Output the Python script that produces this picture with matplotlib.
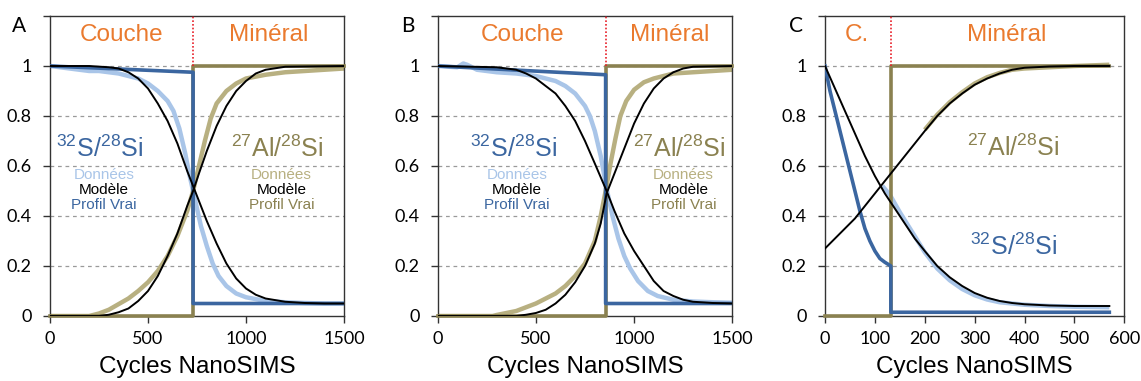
import matplotlib
matplotlib.use("Agg")
import matplotlib.pyplot as plt

plt.rcParams['font.family'] = ['Liberation Sans', 'DejaVu Sans']
plt.rcParams['mathtext.fontset'] = 'custom'
plt.rcParams['mathtext.rm'] = 'Liberation Sans'
plt.rcParams['mathtext.it'] = 'Liberation Sans'

# ---------------- Panel A ----------------
a_interface = 730
a_true_s_x = [0, 730, 730, 1500]
a_true_s_y = [1.0, 0.975, 0.05, 0.05]
a_true_al_x = [0, 730, 730, 1500]
a_true_al_y = [0.0, 0.0, 1.0, 1.0]
a_data_s_x = [0, 50, 100, 150, 200, 250, 300, 350, 400, 450, 500, 550, 600, 630, 660, 690, 710, 730, 750, 770, 800, 830, 860, 900, 950, 1000, 1100, 1200, 1300, 1400, 1500]
a_data_s_y = [1.0, 0.995, 0.99, 0.985, 0.98, 0.98, 0.975, 0.97, 0.96, 0.95, 0.93, 0.90, 0.86, 0.82, 0.75, 0.65, 0.57, 0.50, 0.43, 0.36, 0.28, 0.21, 0.16, 0.12, 0.09, 0.075, 0.06, 0.055, 0.052, 0.05, 0.05]
a_model_s_x = [0, 100, 200, 300, 350, 400, 450, 500, 550, 600, 650, 700, 730, 760, 800, 850, 900, 950, 1000, 1050, 1100, 1200, 1300, 1400, 1500]
a_model_s_y = [1.0, 1.0, 1.0, 0.995, 0.99, 0.975, 0.95, 0.91, 0.85, 0.78, 0.69, 0.58, 0.52, 0.46, 0.38, 0.29, 0.21, 0.15, 0.11, 0.085, 0.07, 0.057, 0.052, 0.05, 0.05]
a_data_al_x = [0, 200, 250, 300, 400, 450, 500, 550, 600, 650, 700, 730, 760, 790, 820, 850, 900, 950, 1000, 1100, 1200, 1300, 1400, 1500]
a_data_al_y = [0.0, 0.0, 0.01, 0.025, 0.07, 0.10, 0.135, 0.18, 0.24, 0.32, 0.42, 0.50, 0.60, 0.70, 0.79, 0.85, 0.90, 0.93, 0.95, 0.965, 0.975, 0.98, 0.985, 0.99]
a_model_al_x = [0, 250, 300, 350, 400, 450, 500, 550, 600, 650, 700, 730, 760, 800, 850, 900, 950, 1000, 1050, 1100, 1200, 1500]
a_model_al_y = [0.0, 0.0, 0.005, 0.015, 0.03, 0.06, 0.10, 0.16, 0.24, 0.33, 0.44, 0.50, 0.57, 0.66, 0.76, 0.84, 0.90, 0.94, 0.97, 0.985, 0.997, 1.0]

# ---------------- Panel B ----------------
b_interface = 855
b_true_s_x = [0, 855, 855, 1500]
b_true_s_y = [1.0, 0.965, 0.05, 0.05]
b_true_al_x = [0, 855, 855, 1500]
b_true_al_y = [0.0, 0.0, 1.0, 1.0]
b_data_s_x = [0, 100, 130, 150, 200, 300, 400, 500, 600, 650, 700, 750, 775, 800, 830, 860, 890, 920, 950, 980, 1020, 1070, 1120, 1200, 1300, 1400, 1500]
b_data_s_y = [1.0, 0.995, 1.01, 1.005, 0.985, 0.975, 0.97, 0.96, 0.94, 0.92, 0.89, 0.84, 0.80, 0.74, 0.64, 0.51, 0.40, 0.31, 0.24, 0.19, 0.14, 0.10, 0.08, 0.065, 0.058, 0.055, 0.053]
b_model_s_x = [0, 300, 400, 450, 500, 550, 600, 650, 700, 750, 800, 860, 900, 950, 1000, 1050, 1100, 1150, 1200, 1250, 1300, 1400, 1500]
b_model_s_y = [1.0, 0.995, 0.985, 0.97, 0.95, 0.92, 0.89, 0.84, 0.78, 0.70, 0.61, 0.50, 0.42, 0.33, 0.26, 0.20, 0.14, 0.10, 0.08, 0.065, 0.057, 0.052, 0.05]
b_data_al_x = [0, 280, 300, 400, 500, 600, 650, 700, 750, 800, 830, 855, 880, 905, 930, 960, 1000, 1050, 1100, 1200, 1300, 1400, 1500]
b_data_al_y = [0.0, 0.0, 0.004, 0.02, 0.05, 0.09, 0.12, 0.16, 0.21, 0.30, 0.40, 0.50, 0.61, 0.71, 0.80, 0.86, 0.905, 0.935, 0.95, 0.97, 0.975, 0.98, 0.985]
b_model_al_x = [0, 400, 450, 500, 550, 600, 650, 700, 750, 800, 830, 860, 900, 950, 1000, 1050, 1100, 1150, 1200, 1250, 1300, 1500]
b_model_al_y = [0.0, 0.0, 0.005, 0.012, 0.025, 0.05, 0.085, 0.135, 0.20, 0.29, 0.37, 0.49, 0.57, 0.67, 0.77, 0.85, 0.91, 0.95, 0.975, 0.99, 0.997, 1.0]

# ---------------- Panel C ----------------
c_interface = 132
c_true_s_x = [0, 10, 20, 30, 40, 50, 60, 70, 80, 90, 100, 110, 120, 132, 132, 570]
c_true_s_y = [1.0, 0.90, 0.82, 0.74, 0.66, 0.58, 0.50, 0.42, 0.35, 0.30, 0.26, 0.23, 0.215, 0.20, 0.015, 0.015]
c_true_al_x = [0, 132, 132, 570]
c_true_al_y = [0.0, 0.0, 1.0, 1.0]
c_data_s_x = [115, 130, 150, 175, 200, 225, 250, 275, 300, 325, 350, 400, 450, 500, 570]
c_data_s_y = [0.52, 0.485, 0.415, 0.335, 0.255, 0.19, 0.143, 0.108, 0.083, 0.066, 0.055, 0.045, 0.04, 0.037, 0.035]
c_model_s_x = [0, 20, 40, 60, 80, 100, 120, 140, 160, 180, 200, 225, 250, 275, 300, 325, 350, 375, 400, 450, 500, 570]
c_model_s_y = [1.0, 0.91, 0.82, 0.73, 0.64, 0.56, 0.49, 0.43, 0.37, 0.31, 0.26, 0.20, 0.155, 0.12, 0.092, 0.073, 0.06, 0.052, 0.047, 0.042, 0.04, 0.04]
c_data_al_x = [200, 225, 250, 275, 300, 325, 350, 375, 400, 450, 500, 570]
c_data_al_y = [0.745, 0.805, 0.855, 0.895, 0.93, 0.955, 0.972, 0.985, 0.99, 0.995, 1.0, 1.005]
c_model_al_x = [0, 20, 40, 60, 80, 100, 120, 140, 160, 180, 200, 225, 250, 275, 300, 325, 350, 375, 400, 450, 500, 570]
c_model_al_y = [0.27, 0.31, 0.35, 0.39, 0.44, 0.49, 0.54, 0.59, 0.64, 0.69, 0.74, 0.80, 0.85, 0.89, 0.925, 0.95, 0.97, 0.985, 0.993, 0.998, 1.0, 1.0]

yticks = [0, 0.2, 0.4, 0.6, 0.8, 1.0, 1.2]
ytick_labels = ['0', '0.2', '0.4', '0.6', '0.8', '1', '']
ab_xticks = [0, 500, 1000, 1500]
c_xticks = [0, 100, 200, 300, 400, 500, 600]

BLUE = '#3B66A0'
LBLUE = '#A9C5E8'
OLIVE = '#8A8150'
KHAKI = '#B8B081'
ORANGE = '#EA7A2E'

fig = plt.figure(figsize=(11.41, 3.81), dpi=100)

def make_axes(rect, xlim, xticks):
    ax = fig.add_axes(rect)
    ax.set_xlim(*xlim)
    ax.set_ylim(0, 1.2)
    for y in yticks[1:6]:
        ax.axhline(y, color='#9a9a9a', lw=0.9, ls=(0, (3, 3)), zorder=0)
    ax.set_yticks(yticks)
    ax.set_yticklabels(ytick_labels, fontfamily='Lato', fontsize=13)
    ax.set_xticks(xticks)
    ax.set_xticklabels([str(t) for t in xticks], fontfamily='Lato', fontsize=13)
    ax.tick_params(direction='out', length=5, width=1, color='#333333')
    ax.tick_params(axis='y', pad=8)
    ax.tick_params(axis='x', pad=6)
    for s in ax.spines.values():
        s.set_color('#333333')
        s.set_linewidth(1.0)
    ax.set_xlabel('Cycles NanoSIMS', fontsize=17.5, labelpad=6)
    return ax

def draw(ax, iface, tsx, tsy, tax, tay, dsx, dsy, msx, msy, dax, day, max_, may):
    ax.plot(dsx, dsy, color=LBLUE, lw=3.2, zorder=2, solid_capstyle='butt')
    ax.plot(dax, day, color=KHAKI, lw=3.2, zorder=2, solid_capstyle='butt')
    ax.plot(tax, tay, color=OLIVE, lw=2.6, zorder=3, clip_on=False)
    ax.plot(tsx, tsy, color=BLUE, lw=2.6, zorder=3)
    ax.plot(msx, msy, color='black', lw=1.4, zorder=4)
    ax.plot(max_, may, color='black', lw=1.4, zorder=4)
    ax.plot([iface, iface], [1.0, 1.2], color='#E8202A', lw=1.2, ls=(0, (1, 1.2)), zorder=3)

def labels(ax, x, y, main, color, dcolor, tcolor, sub=True, dx=0):
    ax.text(x, y, main, color=color, fontsize=18, ha='center', va='center', zorder=5)
    if sub:
        ax.text(x + dx, 0.563, 'Données', color=dcolor, fontsize=11, ha='center', va='center', zorder=5)
        ax.text(x + dx, 0.503, 'Modèle', color='black', fontsize=11, ha='center', va='center', zorder=5)
        ax.text(x + dx, 0.445, 'Profil Vrai', color=tcolor, fontsize=11, ha='center', va='center', zorder=5)

S_LAB = r'$\mathregular{^{32}S/^{28}Si}$'
AL_LAB = r'$\mathregular{^{27}Al/^{28}Si}$'
TOPFS = 17.5

# Panel A
axA = make_axes([50/1141, 65/381, 294/1141, 300/381], (0, 1500), ab_xticks)
draw(axA, a_interface, a_true_s_x, a_true_s_y, a_true_al_x, a_true_al_y,
     a_data_s_x, a_data_s_y, a_model_s_x, a_model_s_y,
     a_data_al_x, a_data_al_y, a_model_al_x, a_model_al_y)
axA.text(365, 1.125, 'Couche', color=ORANGE, fontsize=TOPFS, ha='center', va='center')
axA.text(1115, 1.125, 'Minéral', color=ORANGE, fontsize=TOPFS, ha='center', va='center')
labels(axA, 250, 0.668, S_LAB, BLUE, LBLUE, BLUE, dx=25)
labels(axA, 1160, 0.668, AL_LAB, OLIVE, KHAKI, OLIVE, dx=22)

# Panel B
axB = make_axes([437.7/1141, 65/381, 294.6/1141, 300/381], (0, 1500), ab_xticks)
draw(axB, b_interface, b_true_s_x, b_true_s_y, b_true_al_x, b_true_al_y,
     b_data_s_x, b_data_s_y, b_model_s_x, b_model_s_y,
     b_data_al_x, b_data_al_y, b_model_al_x, b_model_al_y)
axB.text(430, 1.125, 'Couche', color=ORANGE, fontsize=TOPFS, ha='center', va='center')
axB.text(1180, 1.125, 'Minéral', color=ORANGE, fontsize=TOPFS, ha='center', va='center')
labels(axB, 385, 0.668, S_LAB, BLUE, LBLUE, BLUE, dx=18)
labels(axB, 1230, 0.668, AL_LAB, OLIVE, KHAKI, OLIVE, dx=22)

# Panel C
axC = make_axes([825/1141, 65/381, 299.3/1141, 300/381], (0, 600), c_xticks)
draw(axC, c_interface, c_true_s_x, c_true_s_y, c_true_al_x, c_true_al_y,
     c_data_s_x, c_data_s_y, c_model_s_x, c_model_s_y,
     c_data_al_x, c_data_al_y, c_model_al_x, c_model_al_y)
axC.text(64, 1.125, 'C.', color=ORANGE, fontsize=TOPFS, ha='center', va='center')
axC.text(364, 1.125, 'Minéral', color=ORANGE, fontsize=TOPFS, ha='center', va='center')
labels(axC, 377, 0.672, AL_LAB, OLIVE, KHAKI, OLIVE, sub=False)
labels(axC, 377, 0.278, S_LAB, BLUE, LBLUE, BLUE, sub=False)

for letter, px in (('A', 19.5), ('B', 407.5), ('C', 796)):
    fig.text(px/1141, 1 - 26/381, letter, fontfamily='Lato', fontsize=15,
             ha='center', va='center')

fig.savefig('out.png', dpi=100)
